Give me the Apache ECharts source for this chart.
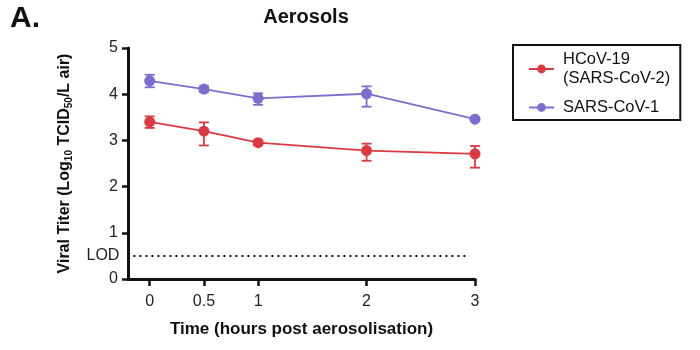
<!DOCTYPE html>
<html><head><meta charset="utf-8">
<script src="https://cdn.jsdelivr.net/npm/echarts@6/dist/echarts.min.js"></script>
<style>html,body{margin:0;padding:0;background:#fff}#c{width:700px;height:350px}</style>
</head><body><div id="c"></div>
<script>
const times = [0, 0.5, 1, 2, 3];
const xTicks = [0, 0.5, 1, 2, 3];
const sars2 = [3.40, 3.20, 2.95, 2.78, 2.71];
const sars2Lo = [3.27, 2.89, 2.90, 2.56, 2.41];
const sars2Hi = [3.52, 3.39, 3.00, 2.93, 2.88];
const sars1 = [4.29, 4.11, 3.91, 4.01, 3.46];
const sars1Lo = [4.15, 4.05, 3.77, 3.73, 3.43];
const sars1Hi = [4.42, 4.17, 4.02, 4.17, 3.49];
const lod = 0.5;
const names = ['HCoV-19\n(SARS-CoV-2)', 'SARS-CoV-1'];
const RED = '#dc3a40', BLUE = '#7b6ecf';
const FONT = 'Liberation Sans';

function errSeries(lo, hi, color) {
  return {
    type: 'custom', silent: true, z: 3,
    data: times.map((t, i) => [t, lo[i], hi[i]]),
    encode: { x: 0, y: [1, 2] },
    renderItem: function (params, api) {
      const x = api.value(0);
      const a = api.coord([x, api.value(2)]);
      const b = api.coord([x, api.value(1)]);
      const w = 5;
      const st = { stroke: color, lineWidth: 1.8 };
      return { type: 'group', children: [
        { type: 'line', shape: { x1: a[0], y1: a[1], x2: b[0], y2: b[1] }, style: st },
        { type: 'line', shape: { x1: a[0] - w, y1: a[1], x2: a[0] + w, y2: a[1] }, style: st },
        { type: 'line', shape: { x1: b[0] - w, y1: b[1], x2: b[0] + w, y2: b[1] }, style: st }
      ]};
    }
  };
}

const chart = echarts.init(document.getElementById('c'));
chart.setOption({
  animation: false,
  textStyle: { fontFamily: FONT },
  title: [
    { text: 'Aerosols', left: 301, top: 2, textAlign: 'center',
      textStyle: { fontFamily: FONT, fontSize: 20, fontWeight: 'bold', color: '#111' } },
    { text: 'A.', left: 5, top: -1,
      textStyle: { fontFamily: FONT, fontSize: 30, fontWeight: 'bold', color: '#111' } }
  ],
  grid: { left: 128, right: 225, top: 48, bottom: 71 },
  legend: {
    orient: 'vertical', left: 513, top: 45,
    data: names,
    borderColor: '#111', borderWidth: 2,
    padding: [5, 10, 3, 15], itemGap: 10,
    itemWidth: 25, itemHeight: 11,
    textStyle: { fontFamily: FONT, fontSize: 16.5, color: '#111', lineHeight: 19, padding: [0, 0, 0, 4] }
  },
  xAxis: {
    type: 'value', min: -0.2, max: 3,
    name: 'Time (hours post aerosolisation)', nameLocation: 'middle', nameGap: 42,
    nameTextStyle: { fontFamily: FONT, fontSize: 17, fontWeight: 'bold', color: '#111' },
    axisLine: { onZero: false, lineStyle: { color: '#111', width: 3 } },
    axisTick: { customValues: xTicks, length: 7, lineStyle: { color: '#111', width: 2.5 } },
    axisLabel: { customValues: xTicks, fontSize: 16, color: '#222', margin: 15,
      formatter: v => String(v) },
    splitLine: { show: false }
  },
  yAxis: {
    type: 'value', min: 0, max: 5, interval: 1,
    name: 'Viral Titer (Log{sub|10} TCID{sub|50}/L air)', nameLocation: 'middle', nameGap: 54,
    nameTextStyle: { fontFamily: FONT, fontSize: 16, fontWeight: 'bold', color: '#111',
      rich: { sub: { fontFamily: FONT, fontSize: 10, fontWeight: 'bold', color: '#111', padding: [9, 0, 0, 0] } } },
    axisLine: { show: true, onZero: false, lineStyle: { color: '#111', width: 3 } },
    axisTick: { show: true, length: 6, lineStyle: { color: '#111', width: 2.5 } },
    axisLabel: { fontSize: 16, color: '#222', margin: 10 },
    splitLine: { show: false }
  },
  series: [
    {
      name: names[0], type: 'line', z: 4,
      data: times.map((t, i) => [t, sars2[i]]),
      symbol: 'circle', symbolSize: 11,
      itemStyle: { color: RED }, lineStyle: { color: RED, width: 1.8 },
      markLine: {
        silent: true, symbol: 'none',
        lineStyle: { color: '#111', type: [2, 4], width: 2 },
        label: { show: true, position: 'start', formatter: 'LOD', fontFamily: FONT, fontSize: 16, color: '#222', distance: 14 },
        data: [[{ coord: [-0.15, lod] }, { coord: [2.95, lod] }]]
      }
    },
    {
      name: names[1], type: 'line', z: 4,
      data: times.map((t, i) => [t, sars1[i]]),
      symbol: 'circle', symbolSize: 11,
      itemStyle: { color: BLUE }, lineStyle: { color: BLUE, width: 1.8 }
    },
    errSeries(sars2Lo, sars2Hi, RED),
    errSeries(sars1Lo, sars1Hi, BLUE)
  ]
});
</script>
</body></html>
